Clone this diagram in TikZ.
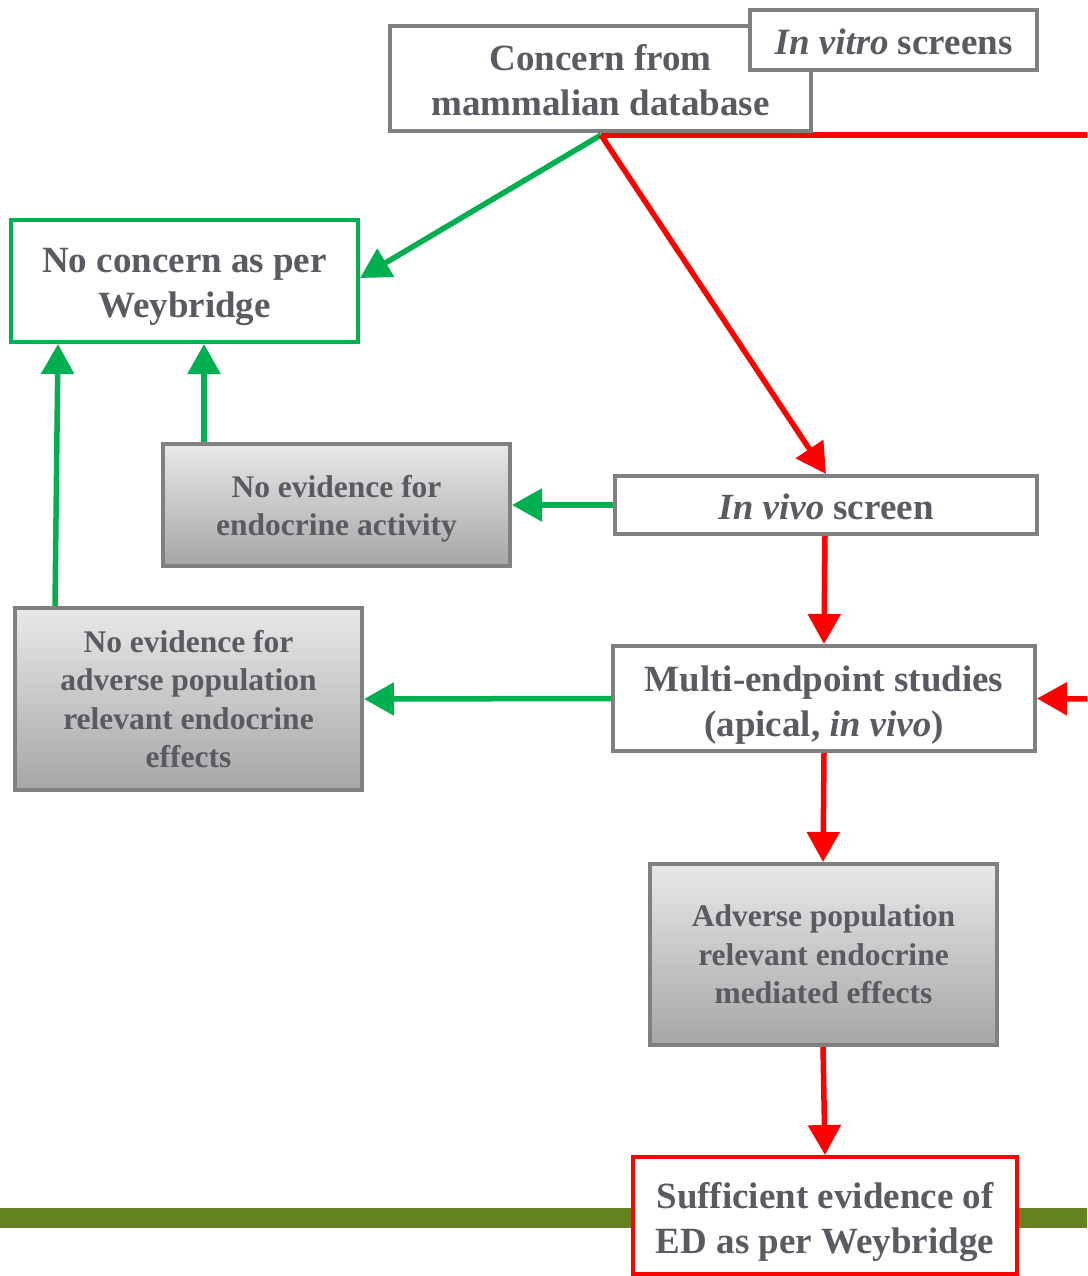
\documentclass[tikz,border=0pt]{standalone}
\usepackage{fontspec}
\setmainfont{Liberation Serif}
\usetikzlibrary{arrows.meta}
\definecolor{tgray}{RGB}{90,90,98}
\definecolor{bgray}{RGB}{128,128,128}
\definecolor{fgreen}{RGB}{0,176,80}
\definecolor{fred}{RGB}{255,0,0}
\definecolor{olive}{RGB}{100,130,30}
\definecolor{shtop}{RGB}{232,232,232}
\definecolor{shbot}{RGB}{166,166,166}
\newcommand{\tup}[1]{\rule{0pt}{#1pt}}
\begin{document}
\begin{tikzpicture}[x=1pt,y=-1pt,
  box/.style={draw=bgray,line width=4pt,fill=white,rectangle,align=center,text=tgray,font=\bfseries\fontsize{37}{45}\selectfont,inner sep=0pt},
  greenbox/.style={box,draw=fgreen},
  redbox/.style={box,draw=fred},
  shadedbox/.style={box,fill=none,top color=shtop,bottom color=shbot,font=\bfseries\fontsize{31.5}{38.5}\selectfont},
  garrow/.style={draw=fgreen,line width=5.5pt,-{Triangle[length=30pt,width=32pt]}},
  rarrow/.style={draw=fred,line width=5.5pt,-{Triangle[length=30pt,width=32pt]}},
  rline/.style={draw=fred,line width=5.5pt}
]
\useasboundingbox (0,0) rectangle (1087,1276);
\clip (0,0) rectangle (1087,1276);
\fill[white] (0,0) rectangle (1087,1276);
% olive band
\fill[olive] (0,1208) rectangle (1087,1228);

\coordinate (hub) at (601,135);
\coordinate (rt) at (1100,135);
\coordinate (rm) at (1100,699);

% red connector under the boxes
\draw[rline] (hub) -- (rt);

\node[box,minimum width=421pt,minimum height=105pt] (cc) at (600.5,78.5) {\tup{29.5}Concern from\\mammalian database};
\node[box,minimum width=287pt,minimum height=60pt] (iv0) at (893.5,40) {\tup{28.5}\textit{In vitro} screens};
\node[greenbox,minimum width=347pt,minimum height=122pt] (nc) at (184.5,281) {\tup{36.5}No concern as per\\Weybridge};
\node[shadedbox,minimum width=347pt,minimum height=122pt] (nee) at (336.5,505) {\tup{29.7}No evidence for\\endocrine activity};
\node[box,minimum width=422pt,minimum height=58pt] (iv) at (826,505) {\tup{28.5}\textit{In vivo} screen};
\node[box,minimum width=422pt,minimum height=105pt] (me) at (824,698.5) {\tup{38}Multi-endpoint studies\\(apical, \textit{in vivo})};
\node[shadedbox,minimum width=347pt,minimum height=182pt] (nea) at (188.5,699) {No evidence for\\adverse population\\relevant endocrine\\effects};
\node[shadedbox,minimum width=347pt,minimum height=181pt] (ad) at (823.5,954.5) {Adverse population\\relevant endocrine\\mediated effects};
\node[redbox,minimum width=384pt,minimum height=117pt] (se) at (825,1215.5) {\tup{39.5}Sufficient evidence of\\ED as per Weybridge};

% connectors
\draw[garrow] (hub) -- ([yshift=3pt]nc.east);
\draw[rarrow] (hub) -- (iv.north);
\draw[garrow] (iv.west) -- (nee.east);
\draw[garrow] (nee.north -| 204,0) -- (nc.south -| 204,0);
\draw[garrow] (nea.north -| 55,0) -- (nc.south -| 58,0);
\draw[garrow] (me.west) -- (nea.east);
\draw[rarrow] (iv.south -| 825,0) -- (me.north -| 824,0);
\draw[rarrow] (me.south -| 824,0) -- (ad.north -| 823,0);
\draw[rarrow] (ad.south -| 823,0) -- (se.north -| 825,0);
\draw[rarrow] (rm) -- (me.east);
\end{tikzpicture}
\end{document}
